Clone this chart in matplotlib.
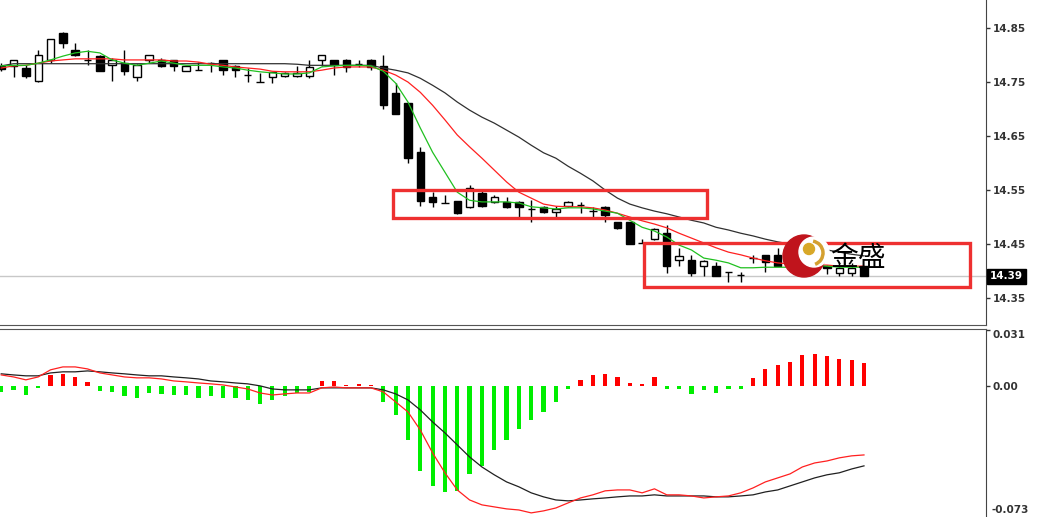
import numpy as np
import matplotlib
matplotlib.use("Agg")
import matplotlib.pyplot as plt
from matplotlib.patches import Rectangle, Circle, Arc
import matplotlib.transforms as mtransforms

# candles
opens = [14.780, 14.780, 14.776, 14.752, 14.790, 14.841, 14.810, 14.791, 14.798, 14.781,
         14.785, 14.760, 14.790, 14.790, 14.790, 14.770, 14.772, 14.786, 14.790, 14.780,
         14.763, 14.750, 14.760, 14.761, 14.761, 14.761, 14.790, 14.790, 14.790, 14.783,
         14.790, 14.780, 14.730, 14.711, 14.620, 14.537, 14.526, 14.530, 14.519, 14.545,
         14.528, 14.528, 14.528, 14.515, 14.518, 14.510, 14.520, 14.522, 14.512, 14.518,
         14.490, 14.490, 14.451, 14.460, 14.470, 14.420, 14.420, 14.410, 14.410, 14.398,
         14.393, 14.424, 14.430, 14.430, 14.415, 14.418, 14.425, 14.410, 14.397, 14.397,
         14.410]
highs = [14.785, 14.790, 14.782, 14.810, 14.830, 14.843, 14.822, 14.810, 14.800, 14.795,
         14.810, 14.783, 14.800, 14.795, 14.790, 14.780, 14.787, 14.787, 14.790, 14.782,
         14.776, 14.767, 14.768, 14.769, 14.780, 14.790, 14.800, 14.790, 14.792, 14.790,
         14.792, 14.800, 14.748, 14.712, 14.630, 14.546, 14.540, 14.530, 14.560, 14.550,
         14.540, 14.537, 14.530, 14.532, 14.520, 14.520, 14.530, 14.528, 14.518, 14.520,
         14.490, 14.490, 14.460, 14.480, 14.485, 14.443, 14.430, 14.420, 14.417, 14.398,
         14.398, 14.430, 14.430, 14.443, 14.440, 14.450, 14.430, 14.412, 14.415, 14.415,
         14.410]
lows = [14.770, 14.760, 14.758, 14.750, 14.785, 14.813, 14.798, 14.782, 14.770, 14.752,
        14.763, 14.752, 14.785, 14.778, 14.770, 14.770, 14.772, 14.768, 14.763, 14.760,
        14.750, 14.750, 14.748, 14.759, 14.759, 14.757, 14.780, 14.763, 14.768, 14.778,
        14.772, 14.700, 14.690, 14.600, 14.520, 14.518, 14.526, 14.505, 14.517, 14.518,
        14.526, 14.516, 14.500, 14.490, 14.508, 14.500, 14.518, 14.508, 14.500, 14.490,
        14.477, 14.450, 14.451, 14.458, 14.397, 14.410, 14.390, 14.390, 14.390, 14.380,
        14.380, 14.415, 14.398, 14.410, 14.410, 14.410, 14.415, 14.395, 14.390, 14.390,
        14.390]
closes = [14.775, 14.790, 14.761, 14.800, 14.830, 14.822, 14.800, 14.791, 14.770, 14.790,
          14.770, 14.781, 14.800, 14.780, 14.780, 14.780, 14.772, 14.786, 14.772, 14.772,
          14.763, 14.750, 14.768, 14.767, 14.767, 14.778, 14.800, 14.781, 14.778, 14.783,
          14.778, 14.707, 14.690, 14.610, 14.530, 14.528, 14.526, 14.507, 14.553, 14.520,
          14.537, 14.518, 14.518, 14.515, 14.510, 14.515, 14.528, 14.522, 14.512, 14.503,
          14.480, 14.450, 14.451, 14.477, 14.410, 14.428, 14.397, 14.418, 14.390, 14.398,
          14.393, 14.424, 14.417, 14.410, 14.425, 14.440, 14.425, 14.405, 14.405, 14.405,
          14.390]

# moving averages (green / red / black)
ma_fast = [14.780, 14.781, 14.781, 14.785, 14.791, 14.798, 14.804, 14.807, 14.804, 14.791,
           14.785, 14.781, 14.785, 14.789, 14.785, 14.781, 14.781, 14.781, 14.778, 14.776,
           14.772, 14.769, 14.767, 14.765, 14.765, 14.767, 14.778, 14.780, 14.781, 14.781,
           14.780, 14.770, 14.748, 14.713, 14.665, 14.620, 14.583, 14.546, 14.531, 14.528,
           14.528, 14.528, 14.526, 14.519, 14.517, 14.515, 14.517, 14.517, 14.515, 14.511,
           14.507, 14.494, 14.481, 14.474, 14.463, 14.448, 14.439, 14.424, 14.420, 14.415,
           14.406, 14.406, 14.407, 14.407, 14.407, 14.411, 14.411, 14.409, 14.407, 14.407,
           14.407]
ma_mid = [14.776, 14.780, 14.781, 14.785, 14.789, 14.791, 14.793, 14.793, 14.793, 14.793,
          14.791, 14.791, 14.791, 14.791, 14.789, 14.789, 14.787, 14.783, 14.781, 14.778,
          14.776, 14.774, 14.770, 14.769, 14.769, 14.769, 14.772, 14.776, 14.778, 14.778,
          14.778, 14.772, 14.763, 14.750, 14.731, 14.707, 14.680, 14.652, 14.630, 14.609,
          14.587, 14.565, 14.546, 14.535, 14.524, 14.520, 14.519, 14.519, 14.517, 14.513,
          14.507, 14.500, 14.493, 14.487, 14.480, 14.470, 14.461, 14.452, 14.443, 14.435,
          14.430, 14.424, 14.419, 14.415, 14.413, 14.411, 14.411, 14.411, 14.409, 14.409,
          14.409]
ma_slow = [14.780, 14.784, 14.784, 14.784, 14.784, 14.784, 14.784, 14.784, 14.784, 14.784,
           14.784, 14.784, 14.784, 14.784, 14.784, 14.784, 14.784, 14.784, 14.784, 14.784,
           14.784, 14.784, 14.784, 14.784, 14.783, 14.781, 14.781, 14.781, 14.781, 14.781,
           14.781, 14.776, 14.772, 14.767, 14.757, 14.744, 14.730, 14.713, 14.698, 14.685,
           14.674, 14.661, 14.648, 14.633, 14.619, 14.609, 14.594, 14.581, 14.567, 14.550,
           14.535, 14.524, 14.517, 14.511, 14.506, 14.500, 14.494, 14.489, 14.481, 14.476,
           14.470, 14.465, 14.459, 14.454, 14.450, 14.446, 14.443, 14.439, 14.435, 14.431,
           14.428]

# MACD panel
macd_hist = [-0.0031, -0.0022, -0.0049, -0.0009, 0.0060, 0.0070, 0.0051, 0.0022, -0.0026, -0.0031,
             -0.0055, -0.0062, -0.0037, -0.0044, -0.0049, -0.0049, -0.0062, -0.0055, -0.0062, -0.0062,
             -0.0077, -0.0095, -0.0077, -0.0055, -0.0037, -0.0031, 0.0027, 0.0027, 0.0009, 0.0015,
             0.0007, -0.0086, -0.0159, -0.0296, -0.0465, -0.0547, -0.0580, -0.0574, -0.0483, -0.0439,
             -0.0347, -0.0295, -0.0236, -0.0186, -0.0139, -0.0088, -0.0016, 0.0034, 0.0062, 0.0067,
             0.0053, 0.0021, 0.0015, 0.0053, -0.0013, -0.0016, -0.0041, -0.0022, -0.0036, -0.0016,
             -0.0013, 0.0047, 0.0094, 0.0115, 0.0133, 0.0174, 0.0180, 0.0165, 0.0152, 0.0146,
             0.0128]
macd_line = [0.0063, 0.0052, 0.0036, 0.0052, 0.0091, 0.0107, 0.0107, 0.0096, 0.0074, 0.0063,
             0.0052, 0.0047, 0.0047, 0.0041, 0.0030, 0.0025, 0.0019, 0.0014, 0.0008, -0.0003,
             -0.0014, -0.0036, -0.0047, -0.0041, -0.0036, -0.0036, -0.0008, -0.0003, -0.0008, -0.0008,
             -0.0008, -0.0030, -0.0085, -0.0140, -0.0239, -0.0365, -0.0474, -0.0568, -0.0623, -0.0650,
             -0.0661, -0.0672, -0.0678, -0.0694, -0.0683, -0.0667, -0.0639, -0.0612, -0.0595, -0.0573,
             -0.0568, -0.0568, -0.0584, -0.0562, -0.0595, -0.0595, -0.0601, -0.0612, -0.0606, -0.0601,
             -0.0584, -0.0557, -0.0524, -0.0502, -0.0480, -0.0442, -0.0420, -0.0409, -0.0392, -0.0381,
             -0.0376]
signal_line = [0.0069, 0.0063, 0.0058, 0.0058, 0.0074, 0.0080, 0.0080, 0.0085, 0.0080, 0.0074,
               0.0069, 0.0063, 0.0058, 0.0058, 0.0052, 0.0047, 0.0041, 0.0030, 0.0025, 0.0019,
               0.0014, 0.0003, -0.0014, -0.0019, -0.0019, -0.0019, -0.0008, -0.0008, -0.0008, -0.0008,
               -0.0008, -0.0019, -0.0041, -0.0074, -0.0129, -0.0195, -0.0255, -0.0321, -0.0387, -0.0442,
               -0.0485, -0.0524, -0.0551, -0.0584, -0.0606, -0.0623, -0.0628, -0.0623, -0.0617, -0.0612,
               -0.0606, -0.0601, -0.0601, -0.0595, -0.0601, -0.0601, -0.0601, -0.0601, -0.0606, -0.0606,
               -0.0601, -0.0595, -0.0579, -0.0568, -0.0546, -0.0524, -0.0502, -0.0485, -0.0474, -0.0453,
               -0.0436]

price_ticks = [14.85, 14.75, 14.65, 14.55, 14.45, 14.35]
macd_ticks = [0.031, 0.0, -0.073]
macd_tick_labels = ["0.031", "0.00", "-0.073"]
last_price = 14.39
# highlighted ranges: (first bar, last bar, low price, high price)
boxes = [(31.8, 57.3, 14.498, 14.550), (52.15, 78.6, 14.370, 14.452)]

W, H = 1037, 517
fig = plt.figure(figsize=(W / 100, H / 100), dpi=100)
fig.patch.set_facecolor("white")

ax = fig.add_axes([0, 1 - 325 / H, 986 / W, 325 / H])
ax2 = fig.add_axes([0, 1 - 520 / H, 986 / W, 191 / H])

x = np.arange(len(opens))
o = np.array(opens); c = np.array(closes)
hi = np.array(highs); lo = np.array(lows)

# candles
ax.vlines(x, lo, hi, color="black", lw=1, zorder=3)
bw = 0.6
for i in range(len(x)):
    if abs(c[i] - o[i]) < 1e-9:
        ax.hlines(o[i], x[i] - bw / 2, x[i] + bw / 2, color="black", lw=1, zorder=4)
    else:
        up = c[i] > o[i]
        ax.bar(x[i], abs(c[i] - o[i]), bottom=min(o[i], c[i]), width=bw,
               color="white" if up else "black", edgecolor="black", lw=1, zorder=4)

ax.plot(x, ma_slow, color="#303030", lw=0.9, zorder=5)
ax.plot(x, ma_mid, color="#ff2020", lw=0.9, zorder=5)
ax.plot(x, ma_fast, color="#20c020", lw=0.9, zorder=5)

ax.axhline(last_price, color="#c8c8c8", lw=1, zorder=1)

for x0, x1, y0, y1 in boxes:
    ax.add_patch(Rectangle((x0, y0), x1 - x0, y1 - y0, fill=False,
                           edgecolor="#ee3030", lw=2.4, zorder=6))

ax.set_xlim(-0.1, 79.9)
ax.set_ylim(14.30, 14.902)
ax.yaxis.tick_right()
ax.set_yticks(price_ticks)
ax.set_yticklabels([f"{t:.2f}" for t in price_ticks])
ax.set_xticks([])

trans = mtransforms.blended_transform_factory(ax.transAxes, ax.transData)
ax.text(1.004, last_price, f"{last_price:.2f}", transform=trans, ha="left", va="center",
        fontsize=7.5, fontweight="bold", color="white",
        bbox=dict(boxstyle="square,pad=0.25", fc="black", ec="black"), clip_on=False)

# MACD
cols = ["#ff0000" if v > 0 else "#00ee00" for v in macd_hist]
ax2.bar(x, macd_hist, width=0.34, color=cols, zorder=2)
ax2.plot(x, signal_line, color="#202020", lw=0.9, zorder=3)
ax2.plot(x, macd_line, color="#ff2020", lw=0.9, zorder=3)
ax2.set_xlim(-0.1, 79.9)
ax2.set_ylim(-0.0733, 0.0315)
ax2.yaxis.tick_right()
ax2.set_yticks(macd_ticks)
ax2.set_yticklabels(macd_tick_labels[:2] + [""])
ax2.get_yticklabels()[0].set_va("top")
ax2.set_xticks([])
# bottom label sits just above the cut edge of the picture
lab_off = mtransforms.offset_copy(ax2.transAxes, fig=fig, x=5, y=5, units="dots")
ax2.text(1.0, 0.0, macd_tick_labels[2], transform=lab_off, ha="left", va="bottom",
         fontsize=7.5, fontweight="bold", color="#333333", clip_on=False)

for a in (ax, ax2):
    a.set_facecolor("white")
    a.tick_params(axis="y", direction="out", length=3, width=1, pad=2,
                  labelsize=7.5, colors="#333333")
    for t in a.get_yticklabels():
        t.set_fontweight("bold")
    a.spines["left"].set_visible(False)
    a.spines["right"].set_color("#444444")
ax.spines["top"].set_visible(False)
ax.spines["bottom"].set_color("#555555")
ax2.spines["top"].set_color("#555555")
ax2.spines["bottom"].set_visible(False)

# watermark logo
ov = fig.add_axes([0, 0, 1, 1])
ov.set_xlim(0, W)
ov.set_ylim(H, 0)
ov.axis("off")
ov.patch.set_alpha(0)
ov.add_patch(Circle((804, 256), 21, color="#c0141c", zorder=1))
ov.add_patch(Circle((814, 252), 15, color="white", zorder=2))
ov.add_patch(Arc((811, 253), 24, 24, theta1=-80, theta2=70, color="#d4a030", lw=2.5, zorder=3))
ov.add_patch(Circle((809, 249), 5.5, color="#d8a828", zorder=4))
ov.text(830, 258, "金盛", fontsize=20, family=["Noto Sans CJK SC", "DejaVu Sans"],
        color="black", ha="left", va="center")

fig.savefig("out.png", dpi=100)
